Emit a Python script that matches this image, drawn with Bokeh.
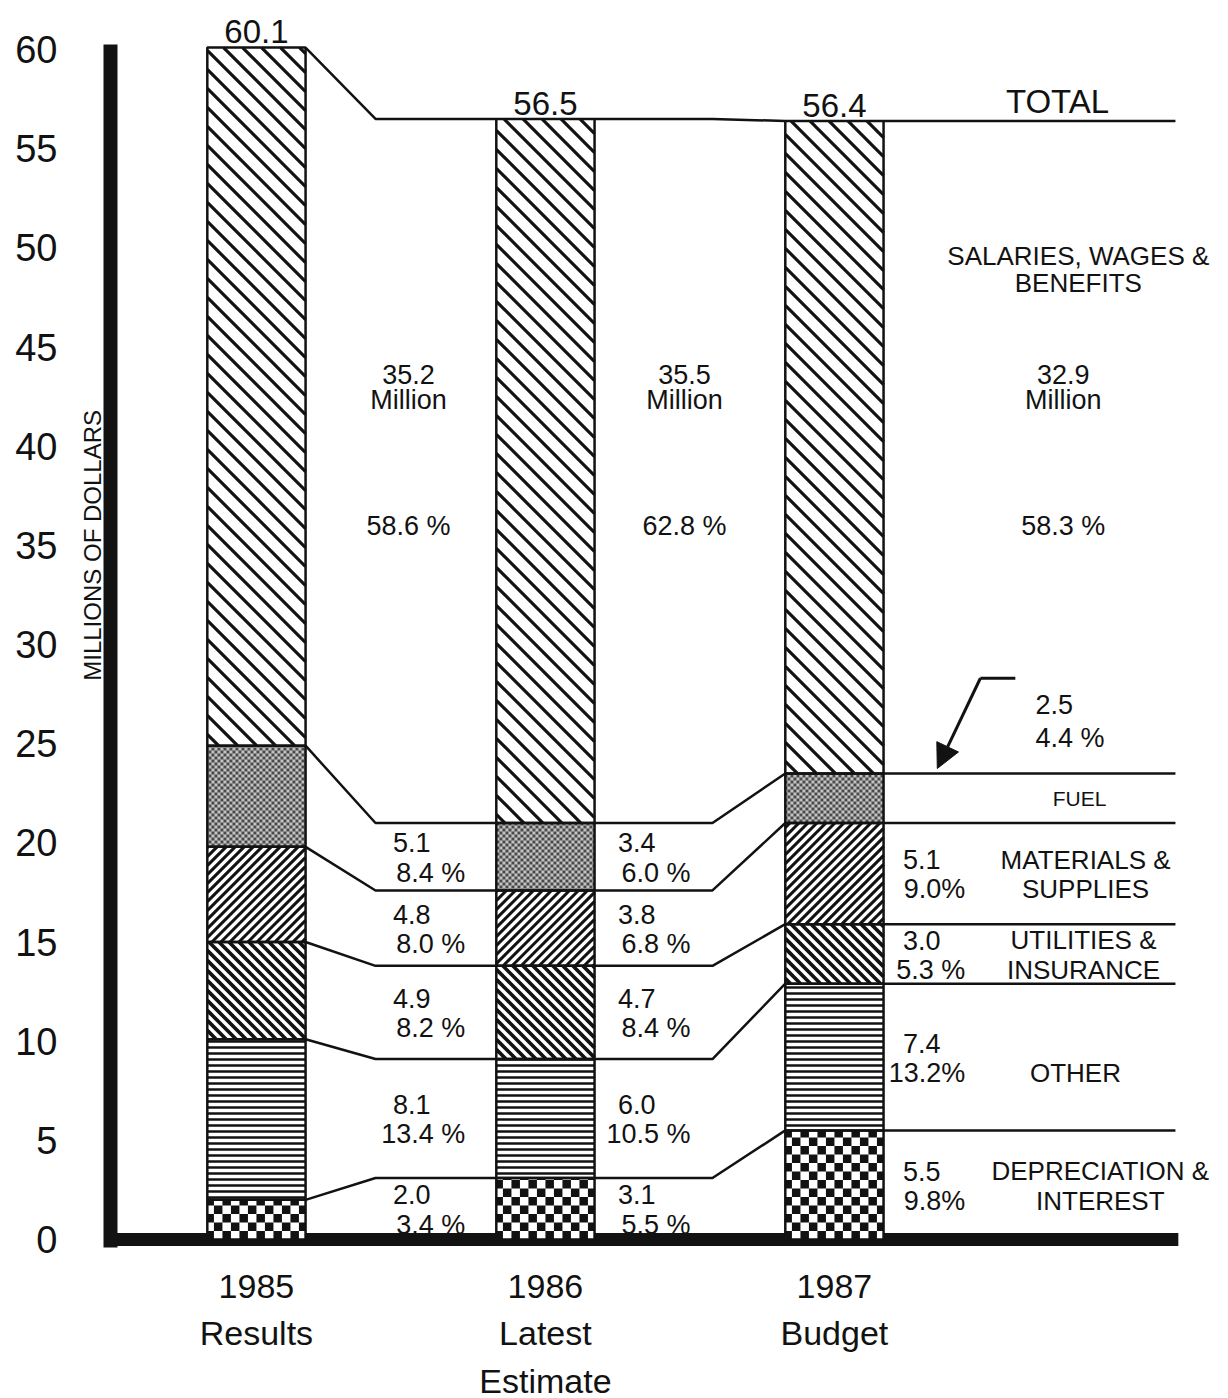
import numpy as np
from bokeh.plotting import figure
from bokeh.models import ColumnDataSource, Range1d, FixedTicker, Arrow, NormalHead
from bokeh.core.properties import value
from bokeh.embed import file_html
from bokeh.resources import INLINE

# ---------------- data ----------------
years = ["1985", "1986", "1987"]
year_notes = ["Results", "Latest\nEstimate", "Budget"]
y_ticks = [0, 5, 10, 15, 20, 25, 30, 35, 40, 45, 50, 55, 60]

depreciation = [2.0, 3.1, 5.5]
other = [8.1, 6.0, 7.4]
utilities = [4.9, 4.7, 3.0]
materials = [4.8, 3.8, 5.1]
fuel = [5.1, 3.4, 2.5]
salaries = [35.2, 35.5, 32.9]
totals = [60.1, 56.5, 56.4]

pct_depreciation = ["3.4 %", "5.5 %", "9.8%"]
pct_other = ["13.4 %", "10.5 %", "13.2%"]
pct_utilities = ["8.2 %", "8.4 %", "5.3 %"]
pct_materials = ["8.0 %", "6.8 %", "9.0%"]
pct_fuel = ["8.4 %", "6.0 %", "4.4 %"]
pct_salaries = ["58.6 %", "62.8 %", "58.3 %"]

names_depreciation = ["DEPRECIATION &", "INTEREST"]
names_other = ["OTHER"]
names_utilities = ["UTILITIES &", "INSURANCE"]
names_materials = ["MATERIALS &", "SUPPLIES"]
names_fuel = ["FUEL"]
names_salaries = ["SALARIES, WAGES &", "BENEFITS"]
total_name = "TOTAL"
million_word = "Million"
y_axis_title = "MILLIONS OF DOLLARS"

# ---------------- layout / style ----------------
FONT = "Liberation Sans"
INK = "#121212"
FRAME_W, FRAME_H = 1158, 1240
BAR_W = 0.34
HW = BAR_W / 2
X0, X1 = -0.678, 3.329
Y0, Y1 = -0.555, 61.97
KX = FRAME_W / (X1 - X0)
KY = FRAME_H / (Y1 - Y0)
AXIS_X = -0.505
LINE_END_X = 3.18
KNEE_A = 0.412      # elbow between 1985 and 1986
KNEE_B = 1.578      # elbow between 1986 and 1987
VAL_DX = [0.602, 0.381, 0.367]
PCT_DX = [0.723, 0.502, 0.453]
SAL_DX = [0.526, 0.481, 0.792]
NAME_X = [2.92, 2.834, 2.862, 2.869, 2.848, 2.844]
VAL_DY, PCT_DY = 0.7, -0.8
SAL_VAL_Y, SAL_MIL_Y, SAL_PCT_Y = 43.6, 42.35, 36.0
SAL_NAME_Y = [49.6, 48.25]
LABEL_SIZE = "27px"

# hatch styles per segment (bottom to top)
seg_styles = [
    dict(kind="checker", step=8.5, width=0, fill="white", ink=INK),
    dict(kind="horiz", step=6, width=2.3, fill="white", ink=INK),
    dict(kind="back", step=10, width=3.6, fill="white", ink=INK),
    dict(kind="fwd", step=9, width=3.0, fill="white", ink=INK),
    dict(kind="checker", step=3, width=0, fill="#c4c4c4", ink="#4a4a4a"),
    dict(kind="back", step=19, width=3.2, fill="white", ink=INK),
]

series = [depreciation, other, utilities, materials, fuel, salaries]
arr = np.array(series)
tops = np.cumsum(arr, axis=0)
bottoms = tops - arr
mids = (tops + bottoms) / 2
xs = np.arange(len(years), dtype=float)


def hatch_segments(x0, x1, y0, y1, step, kind):
    """Clip a screen-space hatch (45 degree or horizontal) to one bar segment."""
    u0, u1, v0, v1 = x0 * KX, x1 * KX, y0 * KY, y1 * KY
    out = []
    if kind == "back":          # screen "\"  ->  u + v = c
        c = np.floor((u0 + v0) / step) * step
        while c <= u1 + v1:
            ua, ub = max(u0, c - v1), min(u1, c - v0)
            if ub > ua:
                out.append((ua, c - ua, ub, c - ub))
            c += step
    elif kind == "fwd":         # screen "/"  ->  v - u = c
        c = np.floor((v0 - u1) / step) * step
        while c <= v1 - u0:
            ua, ub = max(u0, v0 - c), min(u1, v1 - c)
            if ub > ua:
                out.append((ua, ua + c, ub, ub + c))
            c += step
    elif kind == "horiz":
        c = np.ceil(v0 / step) * step
        while c < v1:
            out.append((u0, c, u1, c))
            c += step
    return [(a / KX, b / KY, c2 / KX, d / KY) for a, b, c2, d in out]


def checker_cells(x0, x1, y0, y1, cell):
    u0, u1, v0, v1 = x0 * KX, x1 * KX, y0 * KY, y1 * KY
    cells = []
    for i in range(int(np.floor(u0 / cell)), int(np.ceil(u1 / cell)) + 1):
        for j in range(int(np.floor(v0 / cell)), int(np.ceil(v1 / cell)) + 1):
            if (i + j) % 2:
                continue
            l, r = max(u0, i * cell), min(u1, (i + 1) * cell)
            b, t = max(v0, j * cell), min(v1, (j + 1) * cell)
            if r > l and t > b:
                cells.append((l / KX, r / KX, b / KY, t / KY))
    return cells


p = figure(frame_width=FRAME_W, frame_height=FRAME_H, output_backend="svg",
           toolbar_location=None, x_range=Range1d(X0, X1), y_range=Range1d(Y0, Y1),
           min_border_left=60, min_border_right=8, min_border_top=10, min_border_bottom=146)
p.outline_line_color = None
p.grid.visible = False
p.background_fill_color = "white"
p.border_fill_color = "white"

# axes
p.yaxis.ticker = FixedTicker(ticks=y_ticks)
p.yaxis.axis_line_color = None
p.yaxis.major_tick_line_color = None
p.yaxis.minor_tick_line_color = None
p.yaxis.major_tick_out = 0
p.yaxis.major_tick_in = 0
p.yaxis.major_label_standoff = 3
p.yaxis.major_label_text_font = FONT
p.yaxis.major_label_text_font_size = "38px"
p.yaxis.major_label_text_color = INK

p.xaxis.ticker = FixedTicker(ticks=list(xs))
p.xaxis.major_label_overrides = {float(x): f"{y}\n{n}" for x, y, n in zip(xs, years, year_notes)}
p.xaxis.axis_line_color = None
p.xaxis.major_tick_line_color = None
p.xaxis.minor_tick_line_color = None
p.xaxis.major_tick_out = 0
p.xaxis.major_tick_in = 0
p.xaxis.major_label_standoff = 16
p.xaxis.major_label_text_font = FONT
p.xaxis.major_label_text_font_size = "34px"
p.xaxis.major_label_text_line_height = 1.25
p.xaxis.major_label_text_color = INK

# connector lines
cx, cy = [], []
for row in tops:
    a, b, c = row
    cx.append([xs[0] + HW, KNEE_A, xs[1] - HW]); cy.append([a, b, b])
    cx.append([xs[1] + HW, KNEE_B, xs[2] - HW]); cy.append([b, b, c])
    cx.append([xs[2] + HW, LINE_END_X]); cy.append([c, c])
p.multi_line(cx, cy, line_color=INK, line_width=2.5)


def add_text(x, y, t, size, align="center", baseline="middle", angle=0.0):
    src = ColumnDataSource(dict(x=list(x), y=list(y), text=list(t)))
    p.text(x="x", y="y", text="text", source=src, text_font=value(FONT),
           text_font_size=size, text_align=align, text_baseline=baseline,
           angle=angle, text_color=INK)


# segment labels (lower five categories)
lower = [(depreciation, pct_depreciation), (other, pct_other), (utilities, pct_utilities),
         (materials, pct_materials), (fuel, pct_fuel)]
vx, vy, vt, px_, py_, pt = [], [], [], [], [], []
for i, (vals, pcts) in enumerate(lower):
    for j in range(3):
        if i == 4 and j == 2:
            continue
        band = mids[i][1] if j < 2 else mids[i][2]
        vx.append(xs[j] + VAL_DX[j]); vy.append(band + VAL_DY); vt.append(f"{vals[j]:.1f}")
        px_.append(xs[j] + PCT_DX[j]); py_.append(band + PCT_DY); pt.append(pcts[j])
add_text(vx, vy, vt, LABEL_SIZE, align="right")
add_text(px_, py_, pt, LABEL_SIZE, align="right")

# salaries labels
sx = [xs[j] + SAL_DX[j] for j in range(3)]
add_text(sx, [SAL_VAL_Y] * 3, [f"{v:.1f}" for v in salaries], LABEL_SIZE)
add_text(sx, [SAL_MIL_Y] * 3, [million_word] * 3, LABEL_SIZE)
add_text(sx, [SAL_PCT_Y] * 3, pct_salaries, LABEL_SIZE)

# category names at right of 1987
nx, ny, nt = [], [], []
for i, names in enumerate([names_depreciation, names_other, names_utilities, names_materials]):
    band = mids[i][2]
    if len(names) == 2:
        nx += [NAME_X[i]] * 2; ny += [band + VAL_DY, band + PCT_DY]; nt += names
    else:
        nx.append(NAME_X[i]); ny.append(band + PCT_DY); nt.append(names[0])
add_text(nx, ny, nt, "26px")
add_text([NAME_X[4]], [mids[4][2]], names_fuel, "21px")
add_text([NAME_X[5]] * 2, SAL_NAME_Y, names_salaries, "26px")
add_text([2.772], [totals[2] + 1.0], [total_name], "33px")

# totals above bars
add_text(xs, [t + 0.8 for t in totals], [f"{t:.1f}" for t in totals], "33px")

# fuel 1987 call-out
fuel_top87 = tops[4][2]
ay0 = fuel_top87 + 4.8
add_text([xs[2] + 0.696] * 2, [fuel_top87 + 3.5, fuel_top87 + 1.8],
         [f"{fuel[2]:.1f}", pct_fuel[2]], LABEL_SIZE, align="left")
p.segment(x0=[xs[2] + 0.505], y0=[ay0], x1=[xs[2] + 0.626], y1=[ay0], line_width=3, line_color=INK)
p.add_layout(Arrow(end=NormalHead(size=24, fill_color=INK, line_color=INK, line_width=1),
                   x_start=xs[2] + 0.505, y_start=ay0, x_end=xs[2] + 0.356, y_end=fuel_top87 + 0.25,
                   line_width=3, line_color=INK))

# y-axis title
add_text([-0.567], [35.0], [y_axis_title], "24px", angle=np.pi / 2)

# baseline
p.segment(x0=[AXIS_X], y0=[0], x1=[3.19], y1=[0], line_width=13, line_color=INK)

# stacked bars: fills
for i, st in enumerate(seg_styles):
    src = ColumnDataSource(dict(x=xs, bottom=bottoms[i], top=tops[i]))
    p.vbar(x="x", bottom="bottom", top="top", width=BAR_W, source=src,
           fill_color=st["fill"], line_color=None)

# stacked bars: hatching clipped to each segment
for i, st in enumerate(seg_styles):
    if st["kind"] == "checker":
        cells = []
        for j in range(len(xs)):
            cells += checker_cells(xs[j] - HW, xs[j] + HW, bottoms[i][j], tops[i][j], st["step"])
        l, r, b, t = zip(*cells)
        p.quad(left=l, right=r, bottom=b, top=t, fill_color=st["ink"], line_color=None)
        continue
    segs = []
    for j in range(len(xs)):
        segs += hatch_segments(xs[j] - HW, xs[j] + HW, bottoms[i][j], tops[i][j], st["step"], st["kind"])
    a, b, c, d = zip(*segs)
    p.segment(x0=a, y0=b, x1=c, y1=d, line_color=st["ink"], line_width=st["width"])

# stacked bars: outlines
for i in range(len(series)):
    src = ColumnDataSource(dict(x=xs, bottom=bottoms[i], top=tops[i]))
    p.vbar(x="x", bottom="bottom", top="top", width=BAR_W, source=src,
           fill_color=None, line_color=INK, line_width=2.5)

# vertical axis bar
p.segment(x0=[AXIS_X], y0=[-0.4], x1=[AXIS_X], y1=[60.25], line_width=14, line_color=INK)

open("out.html", "w").write(file_html(p, INLINE))
